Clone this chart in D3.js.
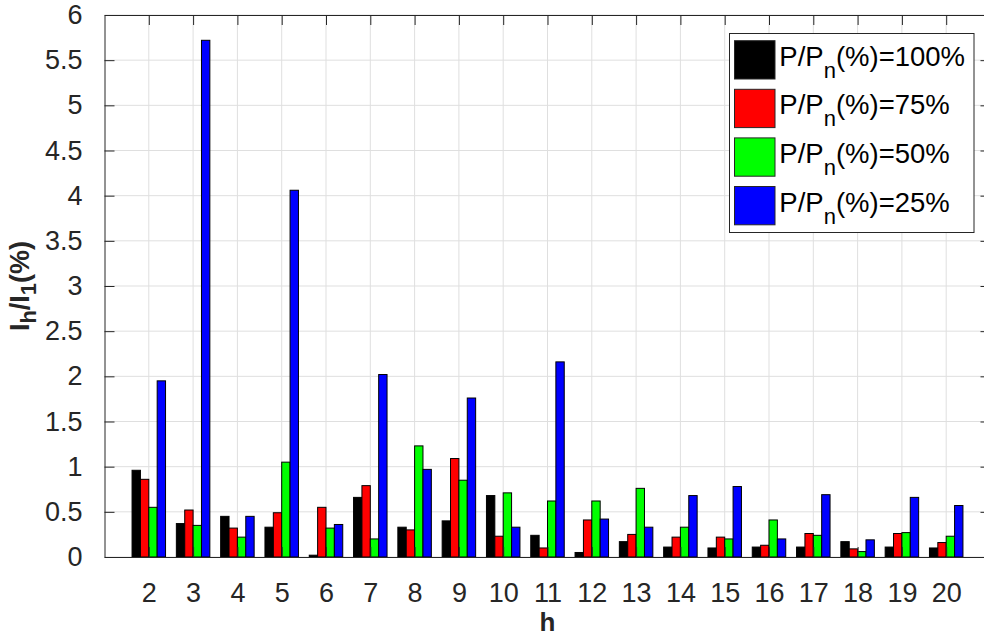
<!DOCTYPE html>
<html>
<head>
<meta charset="utf-8">
<script src="https://cdn.jsdelivr.net/npm/d3@7"></script>
<style>
  html, body { margin: 0; padding: 0; background: #fff; }
  svg { display: block; font-family: "Liberation Sans", Arial, Helvetica, sans-serif; }
</style>
</head>
<body>
<svg id="chart" width="984" height="636"></svg>
<script>
// ---- data ----
const harmonics = [2,3,4,5,6,7,8,9,10,11,12,13,14,15,16,17,18,19,20];
const seriesNames = ["100%", "75%", "50%", "25%"];
const seriesColors = ["#000000", "#ff0000", "#00ff00", "#0000ff"];
const load100 = [0.96,0.37,0.45,0.33,0.02,0.66,0.33,0.40,0.68,0.24,0.05,0.17,0.11,0.10,0.11,0.11,0.17,0.11,0.10];
const load75  = [0.86,0.52,0.32,0.49,0.55,0.79,0.30,1.09,0.23,0.10,0.41,0.25,0.22,0.22,0.13,0.26,0.09,0.26,0.16];
const load50  = [0.55,0.35,0.22,1.05,0.32,0.20,1.23,0.85,0.71,0.62,0.62,0.76,0.33,0.20,0.41,0.24,0.06,0.27,0.23];
const load25  = [1.95,5.72,0.45,4.06,0.36,2.02,0.97,1.76,0.33,2.16,0.42,0.33,0.68,0.78,0.20,0.69,0.19,0.66,0.57];
const yTicks = [0,0.5,1,1.5,2,2.5,3,3.5,4,4.5,5,5.5,6];
const series = [load100, load75, load50, load25];

(function () {
// ---- layout ----
const svg = d3.select("#chart");
const x = d3.scaleLinear().domain([1, 21]).range([104.5, 990.5]);
const y = d3.scaleLinear().domain([0, 6]).range([557, 15]);
const axisColor = "#262626";
const barW = 0.189; // bar width in data units

// grid
const grid = svg.append("g");
grid.selectAll("line.gx").data(harmonics).enter().append("line")
  .attr("x1", d => x(d)).attr("x2", d => x(d))
  .attr("y1", y(0)).attr("y2", y(6))
  .attr("stroke", "#dfdfdf").attr("stroke-width", 1);
grid.selectAll("line.gy").data(yTicks).enter().append("line")
  .attr("x1", x(1)).attr("x2", x(21))
  .attr("y1", d => y(d)).attr("y2", d => y(d))
  .attr("stroke", "#dfdfdf").attr("stroke-width", 1);

// bars
series.forEach((vals, si) => {
  svg.append("g").selectAll("rect").data(vals).enter().append("rect")
    .attr("x", (d, i) => x(harmonics[i] + (si - 2) * barW))
    .attr("width", (d, i) => x(harmonics[i] + (si - 1) * barW) - x(harmonics[i] + (si - 2) * barW))
    .attr("y", d => y(d))
    .attr("height", d => y(0) - y(d))
    .attr("fill", seriesColors[si])
    .attr("stroke", "#000")
    .attr("stroke-width", 1);
});

// axes (box with inward ticks)
const axLeft = d3.axisLeft(y).tickValues(yTicks).tickSizeInner(-10).tickSizeOuter(0).tickPadding(22)
  .tickFormat(d => String(d));
const axRight = d3.axisRight(y).tickValues(yTicks).tickSizeInner(-10).tickSizeOuter(0).tickFormat("");
const axBottom = d3.axisBottom(x).tickValues(harmonics).tickSizeInner(-10).tickSizeOuter(0).tickPadding(26)
  .tickFormat(d => String(d));
const axTop = d3.axisTop(x).tickValues(harmonics).tickSizeInner(-10).tickSizeOuter(0).tickFormat("");

function style(g) {
  g.selectAll("path").attr("stroke", axisColor).attr("stroke-width", 1);
  g.selectAll("line").attr("stroke", axisColor).attr("stroke-width", 1);
  g.selectAll("text").attr("fill", axisColor).style("font-size", "27px")
    .style("font-family", "'Liberation Sans', Arial, sans-serif");
}
svg.append("g").attr("transform", `translate(${x(1)},0)`).call(axLeft).call(style);
svg.append("g").attr("transform", `translate(${x(21)},0)`).call(axRight).call(style);
svg.append("g").attr("transform", `translate(0,${y(0)})`).call(axBottom).call(style);
svg.append("g").attr("transform", `translate(0,${y(6)})`).call(axTop).call(style);

// x label
svg.append("text").attr("x", (x(1) + x(21)) / 2).attr("y", 631)
  .attr("text-anchor", "middle").attr("fill", axisColor)
  .style("font-size", "26px").style("font-weight", "bold").text("h");

// y label with subscripts
const yl = svg.append("text")
  .attr("transform", `translate(29,${(y(0) + y(6)) / 2}) rotate(-90)`)
  .attr("text-anchor", "middle").attr("fill", axisColor)
  .style("font-size", "27px").style("font-weight", "bold");
yl.append("tspan").text("I");
yl.append("tspan").attr("dy", 7).style("font-size", "22px").text("h");
yl.append("tspan").attr("dy", -7).text("/I");
yl.append("tspan").attr("dy", 7).style("font-size", "22px").text("1");
yl.append("tspan").attr("dy", -7).text("(%)");

// legend
const lg = svg.append("g");
lg.append("rect").attr("x", 729.5).attr("y", 33.5).attr("width", 244.5).attr("height", 199)
  .attr("fill", "#fff").attr("stroke", axisColor).attr("stroke-width", 1);
seriesNames.forEach((name, i) => {
  const y0 = 40.7 + i * 48.6;
  lg.append("rect").attr("x", 734.5).attr("y", y0).attr("width", 40.5).attr("height", 38.3)
    .attr("fill", seriesColors[i]).attr("stroke", "#262626").attr("stroke-width", 1);
  const t = lg.append("text").attr("x", 779.3).attr("y", y0 + 25).attr("fill", "#000")
    .style("font-size", "27.5px");
  t.append("tspan").text("P/P");
  t.append("tspan").attr("dy", 12).style("font-size", "22px").text("n");
  t.append("tspan").attr("dy", -12).text("(%)=" + name);
});
})();
</script>
</body>
</html>
